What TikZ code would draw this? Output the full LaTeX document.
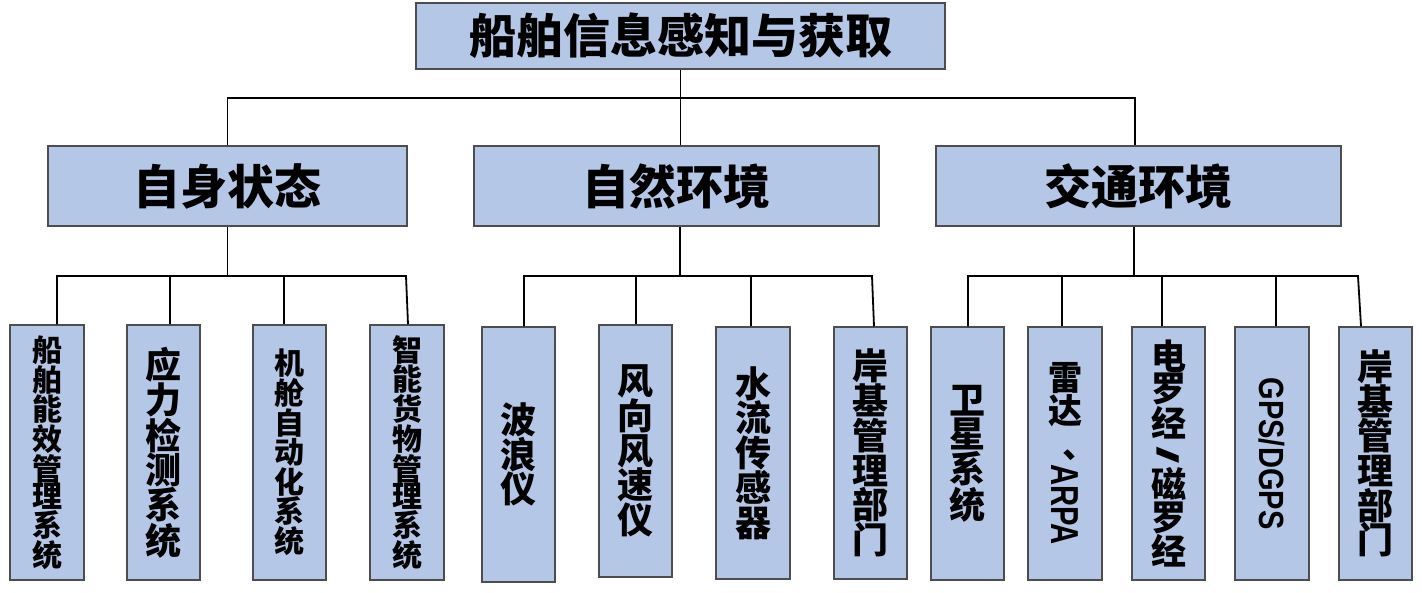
\documentclass[tikz,border=0pt]{standalone}
\usepackage{fontspec}
\newfontfamily\cjk{Noto Sans CJK SC}
\newfontfamily\lat{Liberation Sans}
\definecolor{boxfill}{HTML}{B4C7E7}
\definecolor{boxline}{HTML}{4D4D4D}
\tikzset{
  box/.style={draw=boxline, fill=boxfill, line width=1.5pt, inner sep=0pt, align=center},
  head/.style={box, minimum height=80pt, font=\cjk\bfseries\fontsize{47}{50}\selectfont},
  leaf/.style={box, minimum width=74pt},
  small/.style={font=\cjk\bfseries\fontsize{30}{27.4}\selectfont},
  large/.style={font=\cjk\bfseries\fontsize{36}{34.7}\selectfont},
  conn/.style={draw=black, line width=1.8pt},
}
\begin{document}
\begin{tikzpicture}[x=1pt,y=-1pt]
\useasboundingbox (0,0) rectangle (1422,592);
% top
\node[head, minimum width=529pt, minimum height=66pt] (top) at (680.5,36) {船舶信息感知与获取};
% level 2
\node[head, minimum width=359pt] (L2a) at (227.5,186) {自身状态};
\node[head, minimum width=405pt] (L2b) at (676.5,186) {自然环境};
\node[head, minimum width=405pt] (L2c) at (1138.5,186) {交通环境};
% level 3 group A
\node[leaf, small, minimum height=255pt] (a1) at (47,452.5) {船\\舶\\能\\效\\管\\理\\系\\统};
\node[leaf, large, minimum width=73pt, minimum height=255pt] (a2) at (163.5,452.5) {应\\力\\检\\测\\系\\统};
\node[leaf, small, minimum width=73pt, minimum height=255pt] (a3) at (289.5,452.5) {机\\舱\\自\\动\\化\\系\\统};
\node[leaf, small, minimum height=255pt] (a4) at (407,452.5) {智\\能\\货\\物\\管\\理\\系\\统};
% group B
\node[leaf, large, minimum width=73pt, minimum height=255pt] (b1) at (518.5,454.5) {波\\浪\\仪};
\node[leaf, large, minimum width=73pt, minimum height=252pt] (b2) at (635.5,451) {风\\向\\风\\速\\仪};
\node[leaf, large, minimum height=252pt] (b3) at (753,453) {水\\流\\传\\感\\器};
\node[leaf, large, minimum width=73pt, minimum height=252pt] (b4) at (870.5,453) {岸\\基\\管\\理\\部\\门};
% group C
\node[leaf, large, minimum width=73pt, minimum height=253pt] (c1) at (967.5,453.5) {卫\\星\\系\\统};
\node[leaf, font=\cjk\bfseries\fontsize{34}{33}\selectfont, minimum height=253pt] (c2) at (1065,453.5)
  {雷\\达\\\hspace*{-0.35em}\raisebox{-22pt}[0pt][0pt]{︑}\\\raisebox{25pt}{\rotatebox{-90}{\lat\bfseries\fontsize{39}{39}\selectfont\scalebox{0.75}[1]{ARPA}}}};
\node[leaf, font=\cjk\bfseries\fontsize{35}{30.5}\selectfont, minimum width=73pt, minimum height=253pt] (c3) at (1168.5,453.5)
  {电\\罗\\经\\\raisebox{21pt}{\scalebox{1}[2.1]{\rotatebox{-90}{\lat\bfseries\fontsize{30}{30}\selectfont /}}}\\磁\\罗\\经};
\node[leaf, minimum height=253pt] (c4) at (1272,453.5)
  {\rotatebox{-90}{\lat\bfseries\fontsize{35}{35}\selectfont\scalebox{0.83}[1]{GPS/DGPS}}};
\node[leaf, large, minimum width=73pt, minimum height=253pt] (c5) at (1375.5,453.5) {岸\\基\\管\\理\\部\\门};
% bar levels
\coordinate (y1) at (0,98);
\coordinate (y2) at (0,276);
% top connectors
\draw[conn] (top.south) -- ([xshift=4pt]L2b.north);
\coordinate (pL2c) at ([xshift=-3.5pt]L2c.north);
\draw[conn] (L2a.north) |- (y1 -| top.south);
\draw[conn] (pL2c) |- (y1 -| top.south);
% group A connectors
\draw[conn] (L2a.south) -- (L2a.south |- y2);
\coordinate (pa1) at ([xshift=10pt]a1.north);
\coordinate (pa2) at ([xshift=6.5pt]a2.north);
\coordinate (pa3) at ([xshift=-5.5pt]a3.north);
\coordinate (pa4) at ([xshift=1pt]a4.north);
\coordinate (qa4) at ([xshift=-1pt]a4.north);
\draw[conn] (pa1) |- (qa4 |- y2) -- (pa4);
\draw[conn] (pa2) -- (pa2 |- y2);
\draw[conn] (pa3) -- (pa3 |- y2);
% group B connectors
\coordinate (tb) at ([xshift=3.5pt]L2b.south);
\draw[conn] (tb) -- (tb |- y2);
\coordinate (pb1) at ([xshift=5.5pt]b1.north);
\coordinate (pb2) at ([xshift=0.5pt]b2.north);
\coordinate (pb3) at ([xshift=-2pt]b3.north);
\coordinate (pb4) at ([xshift=3.5pt]b4.north);
\coordinate (qb4) at ([xshift=1.5pt]b4.north);
\draw[conn] (pb1) |- (qb4 |- y2) -- (pb4);
\draw[conn] (pb2) -- (pb2 |- y2);
\draw[conn] (pb3) -- (pb3 |- y2);
% group C connectors
\coordinate (tc) at ([xshift=-4.5pt]L2c.south);
\draw[conn] (tc) -- (tc |- y2);
\coordinate (pc1) at ([xshift=0.5pt]c1.north);
\coordinate (pc2) at ([xshift=-3pt]c2.north);
\coordinate (pc3) at ([xshift=-6.5pt]c3.north);
\coordinate (pc4) at ([xshift=4pt]c4.north);
\coordinate (pc5) at ([xshift=-14.5pt]c5.north);
\coordinate (qc5) at ([xshift=-17.5pt]c5.north);
\draw[conn] (pc1) |- (qc5 |- y2) -- (pc5);
\draw[conn] (pc2) -- (pc2 |- y2);
\draw[conn] (pc3) -- (pc3 |- y2);
\draw[conn] (pc4) -- (pc4 |- y2);
\end{tikzpicture}
\end{document}
